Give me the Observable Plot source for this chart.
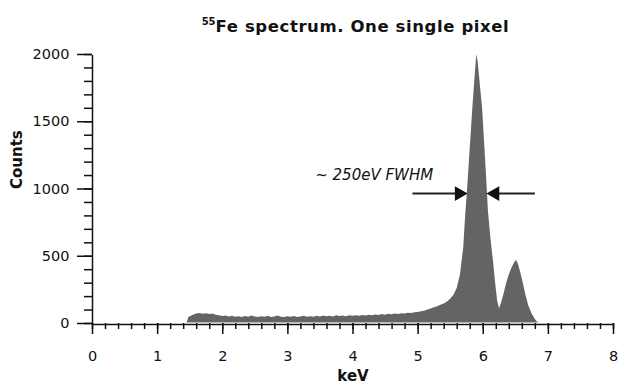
<!DOCTYPE html>
<html>
<head>
<meta charset="utf-8">
<script src="https://cdn.jsdelivr.net/npm/d3@7"></script>
<script src="https://cdn.jsdelivr.net/npm/@observablehq/plot@0.6"></script>
<style>
  html, body { margin: 0; padding: 0; background: #fff; }
  #wrap { position: relative; width: 619px; height: 385px; overflow: hidden; }
  #title { position: absolute; top: 17px; left: 0; width: 619px; padding-left: 92px; box-sizing: border-box; text-align: center;
           font-family: "DejaVu Sans", sans-serif; font-weight: bold; font-size: 16.5px; letter-spacing: 0.6px; color: #111; white-space: nowrap; line-height: 1; }
  #title sup { font-size: 10px; vertical-align: 7px; letter-spacing: 0; }
</style>
</head>
<body>
<div id="wrap">
  <div id="title"><sup>55</sup>Fe spectrum. One single pixel</div>
  <div id="chart"></div>
</div>
<script>
// Energy (keV) and counts
const energy = [1.45,1.48,1.55,1.60,1.65,1.70,1.75,1.80,1.85,1.90,1.95,2.00,2.05,2.10,2.15,2.20,2.25,2.30,2.35,2.40,2.45,2.50,2.55,2.60,2.65,2.70,2.75,2.80,2.85,2.90,2.95,3.00,3.05,3.10,3.15,3.20,3.25,3.30,3.35,3.40,3.45,3.50,3.55,3.60,3.65,3.70,3.75,3.80,3.85,3.90,3.95,4.00,4.05,4.10,4.15,4.20,4.25,4.30,4.35,4.40,4.45,4.50,4.55,4.60,4.65,4.70,4.75,4.80,4.85,4.90,4.95,5.00,5.05,5.10,5.15,5.20,5.25,5.30,5.35,5.40,5.45,5.50,5.55,5.60,5.65,5.70,5.73,5.76,5.80,5.84,5.87,5.90,5.92,5.95,5.99,6.02,6.05,6.08,6.12,6.16,6.19,6.22,6.25,6.28,6.32,6.36,6.40,6.44,6.48,6.51,6.54,6.58,6.62,6.66,6.70,6.75,6.80,6.85];
const counts = [0,45,62,70,75,68,72,66,70,62,58,52,55,48,54,46,50,44,52,47,55,48,44,50,46,53,45,49,56,47,44,50,46,52,45,49,54,47,51,46,53,48,56,50,54,49,57,52,55,50,58,53,57,54,60,56,62,58,63,60,66,62,68,65,70,67,72,70,76,74,80,82,88,92,100,108,118,125,135,145,160,180,210,260,360,560,800,1000,1300,1600,1800,2000,1950,1800,1600,1350,1100,830,620,450,300,170,110,150,220,300,360,410,450,470,440,370,290,200,130,70,30,0];

const xMajor = [0,1,2,3,4,5,6,7,8];
const xMinor = d3.range(0, 8.001, 0.2);
const yMajor = [0,500,1000,1500,2000];
const yMinor = d3.range(0, 2001, 100);

// annotation (data units)
const noteText = "~ 250eV FWHM";
const noteAt = {x: 3.42, y: 1100};
const arrowY = 966;
const leftArrow = {x1: 4.92, x2: 5.70};
const rightArrow = {x1: 6.11, x2: 6.80};

const spectrum = energy.map((e, i) => ({e, c: counts[i]}));

const plot = Plot.plot({
  width: 619,
  height: 385,
  marginTop: 54,
  marginBottom: 62,
  marginLeft: 92,
  marginRight: 6,
  style: {fontFamily: "DejaVu Sans, sans-serif", fontSize: "14px", color: "#111", background: "#fff", overflow: "visible"},
  x: {domain: [0, 8]},
  y: {domain: [0, 2000]},
  marks: [
    Plot.areaY(spectrum, {x: "e", y: "c", fill: "#646464"}),
    Plot.ruleY([0], {stroke: "#bbb", strokeWidth: 1, dy: -1, x1: energy[0], x2: energy[energy.length-1]}),
    // axes
    Plot.axisX({ticks: xMinor, tickSize: 6, text: null, label: null, strokeWidth: 1.5, stroke: "#111"}),
    Plot.axisX({ticks: xMajor, tickSize: 11, tickPadding: 16, tickFormat: d3.format("d"), label: null, strokeWidth: 1.5, stroke: "#111", fontSize: 14.5}),
    Plot.axisY({ticks: yMinor, tickSize: 8, text: null, label: null, strokeWidth: 1.5, stroke: "#111"}),
    Plot.axisY({ticks: yMajor, tickSize: 15, tickPadding: 8, tickFormat: d3.format("d"), label: null, strokeWidth: 1.5, stroke: "#111", fontSize: 14.5}),
    Plot.ruleX([0], {stroke: "#111", strokeWidth: 1.5, y1: 0, y2: 2000, dy: 1}),
    Plot.ruleY([0], {stroke: "#111", strokeWidth: 1.5, dy: 1}),
    // axis titles
    Plot.text(["keV"], {frameAnchor: "bottom", dy: 57, fontWeight: "bold", fontSize: 15, fill: "#111"}),
    Plot.text(["Counts"], {frameAnchor: "left", dx: -75, rotate: -90, fontWeight: "bold", fontSize: 15, fill: "#111"}),
    // annotation
    Plot.text([noteText], {x: noteAt.x, y: noteAt.y, textAnchor: "start", fontStyle: "italic", fontSize: 15, fill: "#111"}),
    Plot.ruleY([arrowY], {x1: leftArrow.x1, x2: leftArrow.x2 - 0.05, stroke: "#222", strokeWidth: 2}),
    Plot.ruleY([arrowY], {x1: rightArrow.x1 + 0.05, x2: rightArrow.x2, stroke: "#222", strokeWidth: 2}),
    Plot.dot([leftArrow.x2 - 0.07], {x: d => d, y: arrowY, symbol: "triangle", rotate: 90, r: 5.5, fill: "#111", stroke: null}),
    Plot.dot([rightArrow.x1 + 0.07], {x: d => d, y: arrowY, symbol: "triangle", rotate: -90, r: 5.5, fill: "#111", stroke: null})
  ]
});
document.getElementById("chart").appendChild(plot);
</script>
</body>
</html>
